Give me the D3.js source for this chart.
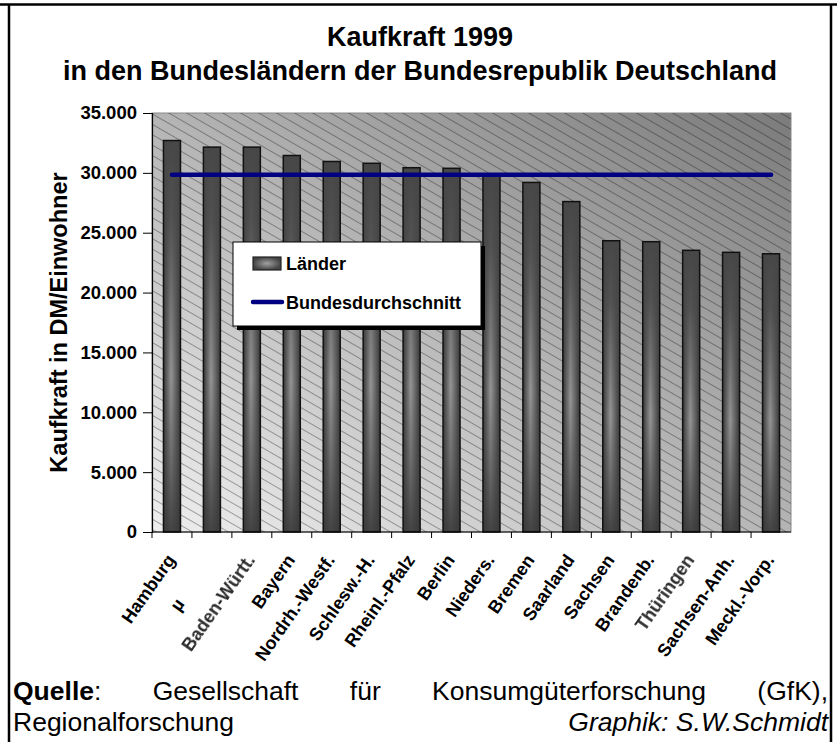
<!DOCTYPE html>
<html>
<head>
<meta charset="utf-8">
<script src="https://cdn.jsdelivr.net/npm/d3@7"></script>
<style>
  body { margin: 0; background: #fff; }
  svg { display: block; font-family: "Liberation Sans", Arial, sans-serif; }
</style>
</head>
<body>
<svg id="chart" width="837" height="742"></svg>
<script>
// Kaufkraft je Einwohner (DM), 1999
const laender = ["Hamburg", "µ", "Baden-Württ.", "Bayern", "Nordrh.-Westf.", "Schlesw.-H.",
  "Rheinl.-Pfalz", "Berlin", "Nieders.", "Bremen", "Saarland", "Sachsen", "Brandenb.",
  "Thüringen", "Sachsen-Anh.", "Meckl.-Vorp."];
const kaufkraft = [32700, 32150, 32150, 31450, 30950, 30800, 30430, 30380, 29800, 29200,
  27600, 24330, 24250, 23530, 23360, 23240];
const bundesdurchschnitt = 29850;
const yTicks = [0, 5000, 10000, 15000, 20000, 25000, 30000, 35000];
const blurred = ["Baden-Württ.", "Thüringen"]; // im Original unscharf

const titel = ["Kaufkraft 1999", "in den Bundesländern der Bundesrepublik Deutschland"];
const yTitel = "Kaufkraft in DM/Einwohner";

const plot = { left: 152, right: 791, top: 113, bottom: 532 };

const de = d3.formatLocale({ decimal: ",", thousands: ".", grouping: [3], currency: ["", " DM"] });

const svg = d3.select("#chart");
const defs = svg.append("defs");

// plot background: light bottom-left, dark top-right
const bg = defs.append("linearGradient").attr("id", "bgGrad")
  .attr("x1", 0).attr("y1", 1).attr("x2", 1).attr("y2", 0);
bg.append("stop").attr("offset", 0).attr("stop-color", "#efefef");
bg.append("stop").attr("offset", 1).attr("stop-color", "#7b7b7b");

const hatch = defs.append("pattern").attr("id", "hatch")
  .attr("patternUnits", "userSpaceOnUse").attr("width", 9).attr("height", 9)
  .attr("patternTransform", "rotate(30)");
hatch.append("line").attr("x1", 0).attr("y1", 4.5).attr("x2", 9).attr("y2", 4.5)
  .attr("stroke", "#000").attr("stroke-opacity", 0.32).attr("stroke-width", 1);

// bars: cylinder look
const barH = defs.append("linearGradient").attr("id", "barH");
barH.append("stop").attr("offset", 0).attr("stop-color", "#363636");
barH.append("stop").attr("offset", 0.45).attr("stop-color", "#959595");
barH.append("stop").attr("offset", 1).attr("stop-color", "#363636");

const barV = defs.append("linearGradient").attr("id", "barV")
  .attr("x1", 0).attr("y1", 0).attr("x2", 0).attr("y2", 1);
barV.append("stop").attr("offset", 0).attr("stop-color", "#474747").attr("stop-opacity", 1);
barV.append("stop").attr("offset", 0.2).attr("stop-color", "#474747").attr("stop-opacity", 0.85);
barV.append("stop").attr("offset", 0.6).attr("stop-color", "#474747").attr("stop-opacity", 0);
barV.append("stop").attr("offset", 1).attr("stop-color", "#3a3a3a").attr("stop-opacity", 0.9);

const swatch = defs.append("radialGradient").attr("id", "swatch");
swatch.append("stop").attr("offset", 0).attr("stop-color", "#a0a0a0");
swatch.append("stop").attr("offset", 1).attr("stop-color", "#444");

defs.append("filter").attr("id", "blur")
  .append("feGaussianBlur").attr("stdDeviation", 0.75);

// frame
const frame = svg.append("g").attr("stroke", "#000").attr("stroke-width", 2.5);
frame.append("line").attr("x1", 0).attr("x2", 837).attr("y1", 4.5).attr("y2", 4.5);
frame.append("line").attr("x1", 9).attr("x2", 9).attr("y1", 4.5).attr("y2", 742);
frame.append("line").attr("x1", 831).attr("x2", 831).attr("y1", 4.5).attr("y2", 742);

// title
svg.append("g").selectAll("text").data(titel).join("text")
  .attr("x", 420).attr("y", (d, i) => 46 + i * 34)
  .attr("text-anchor", "middle").attr("font-size", 27).attr("font-weight", "bold")
  .text(d => d);

const x = d3.scaleBand().domain(laender).range([plot.left, plot.right])
  .paddingInner(0.574).paddingOuter(0.287);
const y = d3.scaleLinear().domain([0, 35000]).range([plot.bottom, plot.top]);

// plot area
svg.append("rect").attr("x", plot.left).attr("y", plot.top)
  .attr("width", plot.right - plot.left).attr("height", plot.bottom - plot.top)
  .attr("fill", "url(#bgGrad)").attr("stroke", "#8a8a8a").attr("stroke-width", 1);
svg.append("rect").attr("x", plot.left).attr("y", plot.top)
  .attr("width", plot.right - plot.left).attr("height", plot.bottom - plot.top)
  .attr("fill", "url(#hatch)");

// bars
const bars = svg.append("g").selectAll("g").data(laender).join("g");
bars.append("rect").attr("x", d => x(d)).attr("y", (d, i) => y(kaufkraft[i]))
  .attr("width", x.bandwidth()).attr("height", (d, i) => y(0) - y(kaufkraft[i]))
  .attr("fill", "url(#barH)");
bars.append("rect").attr("x", d => x(d)).attr("y", (d, i) => y(kaufkraft[i]))
  .attr("width", x.bandwidth()).attr("height", (d, i) => y(0) - y(kaufkraft[i]))
  .attr("fill", "url(#barV)").attr("stroke", "#111").attr("stroke-width", 1.5);

// y axis
const yAxis = svg.append("g").attr("transform", `translate(${plot.left},0)`)
  .call(d3.axisLeft(y).tickValues(yTicks).tickSize(9).tickPadding(6).tickFormat(de.format(",")));
yAxis.select(".domain").attr("stroke", "#000").attr("stroke-width", 1.2);
yAxis.selectAll(".tick line").attr("stroke", "#000");
yAxis.selectAll("text").attr("font-size", 18.5).attr("font-weight", "bold")
  .attr("font-family", "Liberation Sans, Arial, sans-serif").attr("fill", "#000");

svg.append("text")
  .attr("transform", `translate(67,${(plot.top + plot.bottom) / 2}) rotate(-90)`)
  .attr("text-anchor", "middle").attr("font-size", 23.5).attr("font-weight", "bold")
  .text(yTitel);

// x axis with ticks between the categories
const gap = (x.step() - x.bandwidth()) / 2;
const xAxis = svg.append("g");
xAxis.append("line").attr("x1", plot.left).attr("x2", plot.right)
  .attr("y1", y(0)).attr("y2", y(0)).attr("stroke", "#000").attr("stroke-width", 1.2);
xAxis.selectAll(".xt").data(laender).join("line").attr("class", "xt")
  .attr("x1", d => x(d) - gap).attr("x2", d => x(d) - gap)
  .attr("y1", y(0)).attr("y2", y(0) + 6).attr("stroke", "#000");

const labelAngle = -55;
xAxis.selectAll(".xl").data(laender).join("text").attr("class", "xl")
  .attr("transform", d => `translate(${x(d) + x.bandwidth() / 2 + 4},560) rotate(${labelAngle})`)
  .attr("text-anchor", d => d === "µ" ? "start" : "end")
  .attr("x", d => d === "µ" ? -64 : 0)
  .attr("font-size", 18).attr("font-weight", "bold")
  .attr("fill", d => blurred.includes(d) ? "#2a2a2a" : "#000")
  .attr("filter", d => blurred.includes(d) ? "url(#blur)" : null)
  .text(d => d);

// Bundesdurchschnitt
const first = laender[0], last = laender[laender.length - 1];
svg.append("line")
  .attr("x1", x(first) + x.bandwidth() / 2).attr("x2", x(last) + x.bandwidth() / 2)
  .attr("y1", y(bundesdurchschnitt)).attr("y2", y(bundesdurchschnitt))
  .attr("stroke", "#000080").attr("stroke-width", 4.5).attr("stroke-linecap", "round");

// legend
const lg = svg.append("g").attr("transform", "translate(233,242)");
lg.append("rect").attr("x", 4).attr("y", 4).attr("width", 248).attr("height", 84).attr("fill", "#000");
lg.append("rect").attr("width", 248).attr("height", 84).attr("fill", "#fff")
  .attr("stroke", "#000").attr("stroke-width", 1);
lg.append("rect").attr("x", 20).attr("y", 15).attr("width", 28).attr("height", 13)
  .attr("fill", "url(#swatch)").attr("stroke", "#222").attr("stroke-width", 1.2);
lg.append("text").attr("x", 53).attr("y", 28).attr("font-size", 18).attr("font-weight", "bold").text("Länder");
lg.append("line").attr("x1", 20).attr("x2", 49).attr("y1", 60).attr("y2", 60)
  .attr("stroke", "#000080").attr("stroke-width", 4.5).attr("stroke-linecap", "round");
lg.append("text").attr("x", 53).attr("y", 67).attr("font-size", 18).attr("font-weight", "bold").text("Bundesdurchschnitt");

// source, justified like in the original
const srcLeft = 13, srcRight = 828;
const quelle = ["Quelle:", "Gesellschaft", "für", "Konsumgüterforschung", "(GfK),"];
const src = svg.append("g").attr("font-size", 26.5);
const words = src.selectAll(".w").data(quelle).join("text").attr("class", "w").attr("y", 700);
words.each(function (d) {
  const t = d3.select(this);
  if (d === "Quelle:") {
    t.append("tspan").attr("font-weight", "bold").text("Quelle");
    t.append("tspan").text(":");
  } else t.text(d);
});
const widths = words.nodes().map(n => n.getComputedTextLength());
const space = (srcRight - srcLeft - d3.sum(widths)) / (quelle.length - 1);
let cx = srcLeft;
words.attr("x", (d, i) => { const v = cx; cx += widths[i] + space; return v; });

src.append("text").attr("x", srcLeft).attr("y", 731).text("Regionalforschung");
src.append("text").attr("x", srcRight).attr("y", 731).attr("text-anchor", "end")
  .attr("font-style", "italic").text("Graphik: S.W.Schmidt");
</script>
</body>
</html>
